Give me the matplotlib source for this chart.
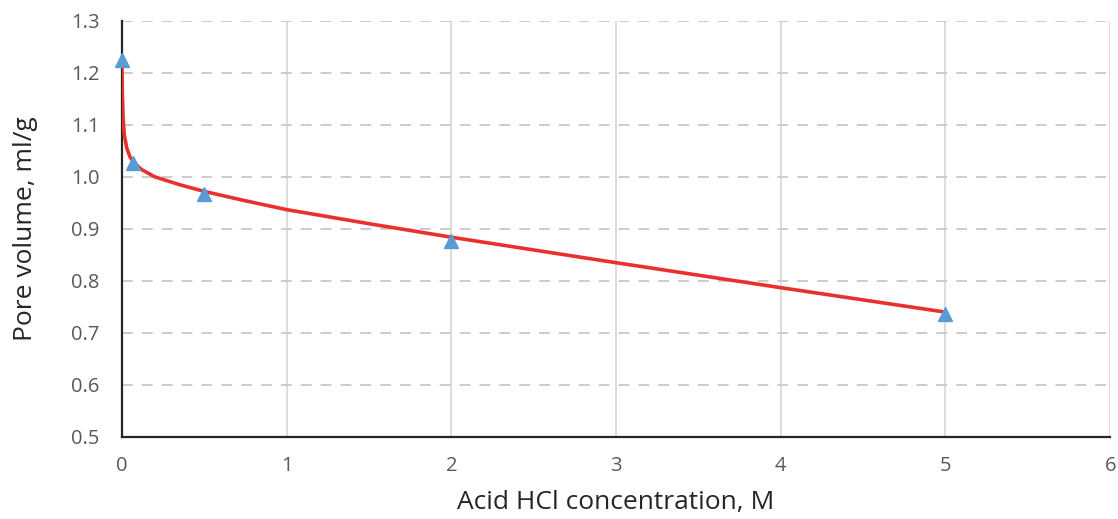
import matplotlib
matplotlib.use("Agg")
import matplotlib.pyplot as plt

# measured points
conc = [0.0, 0.07, 0.5, 2.0, 5.0]
pore_vol = [1.225, 1.027, 0.967, 0.877, 0.737]

# smoothed trend line
curve_x = [0.0, 0.003, 0.008, 0.015, 0.03, 0.05, 0.08, 0.12, 0.2, 0.35, 0.5, 0.75, 1.0, 1.5, 2.0, 3.0, 4.0, 5.0]
curve_y = [1.225, 1.16, 1.11, 1.08, 1.055, 1.038, 1.025, 1.014, 1.000, 0.985, 0.972, 0.954, 0.937, 0.910, 0.884, 0.835, 0.787, 0.740]

xticks = [0, 1, 2, 3, 4, 5, 6]
yticks = [0.5, 0.6, 0.7, 0.8, 0.9, 1.0, 1.1, 1.2, 1.3]

plt.rcParams['font.family'] = ['Open Sans', 'DejaVu Sans']

fig, ax = plt.subplots(figsize=(11.18, 5.19), dpi=100)
plt.subplots_adjust(left=0.109, right=0.993, top=0.96, bottom=0.158)

ax.plot(curve_x, curve_y, color='#e8312f', lw=2.6, zorder=3, solid_capstyle='round')
ax.plot(conc, pore_vol, linestyle='none', marker='^', ms=10, color='#5b9bd5', zorder=4, clip_on=False)

ax.set_xlim(0, 6)
ax.set_ylim(0.5, 1.3)
ax.set_xticks(xticks)
ax.set_yticks(yticks)
ax.set_xticklabels([str(t) for t in xticks])
ax.set_yticklabels(['%.1f' % t for t in yticks])

ax.xaxis.grid(True, color='#d9d9d9', lw=1.3, linestyle='-')
ax.yaxis.grid(True, color='#c8c8c8', lw=1.3, linestyle=(0, (6, 5)))
ax.set_axisbelow(True)

for s in ['top', 'right']:
    ax.spines[s].set_visible(False)
for s in ['left', 'bottom']:
    ax.spines[s].set_color('#262626')
    ax.spines[s].set_linewidth(1.6)

ax.tick_params(length=0, labelsize=14.5, colors='#595959')
ax.tick_params(axis='x', pad=14)
ax.tick_params(axis='y', pad=16)
ax.set_xlabel('Acid HCl concentration, M', fontsize=19, color='#262626', labelpad=10)
ax.set_ylabel('Pore volume, ml/g', fontsize=19, color='#262626', labelpad=24)

fig.savefig('out.png', dpi=100)
